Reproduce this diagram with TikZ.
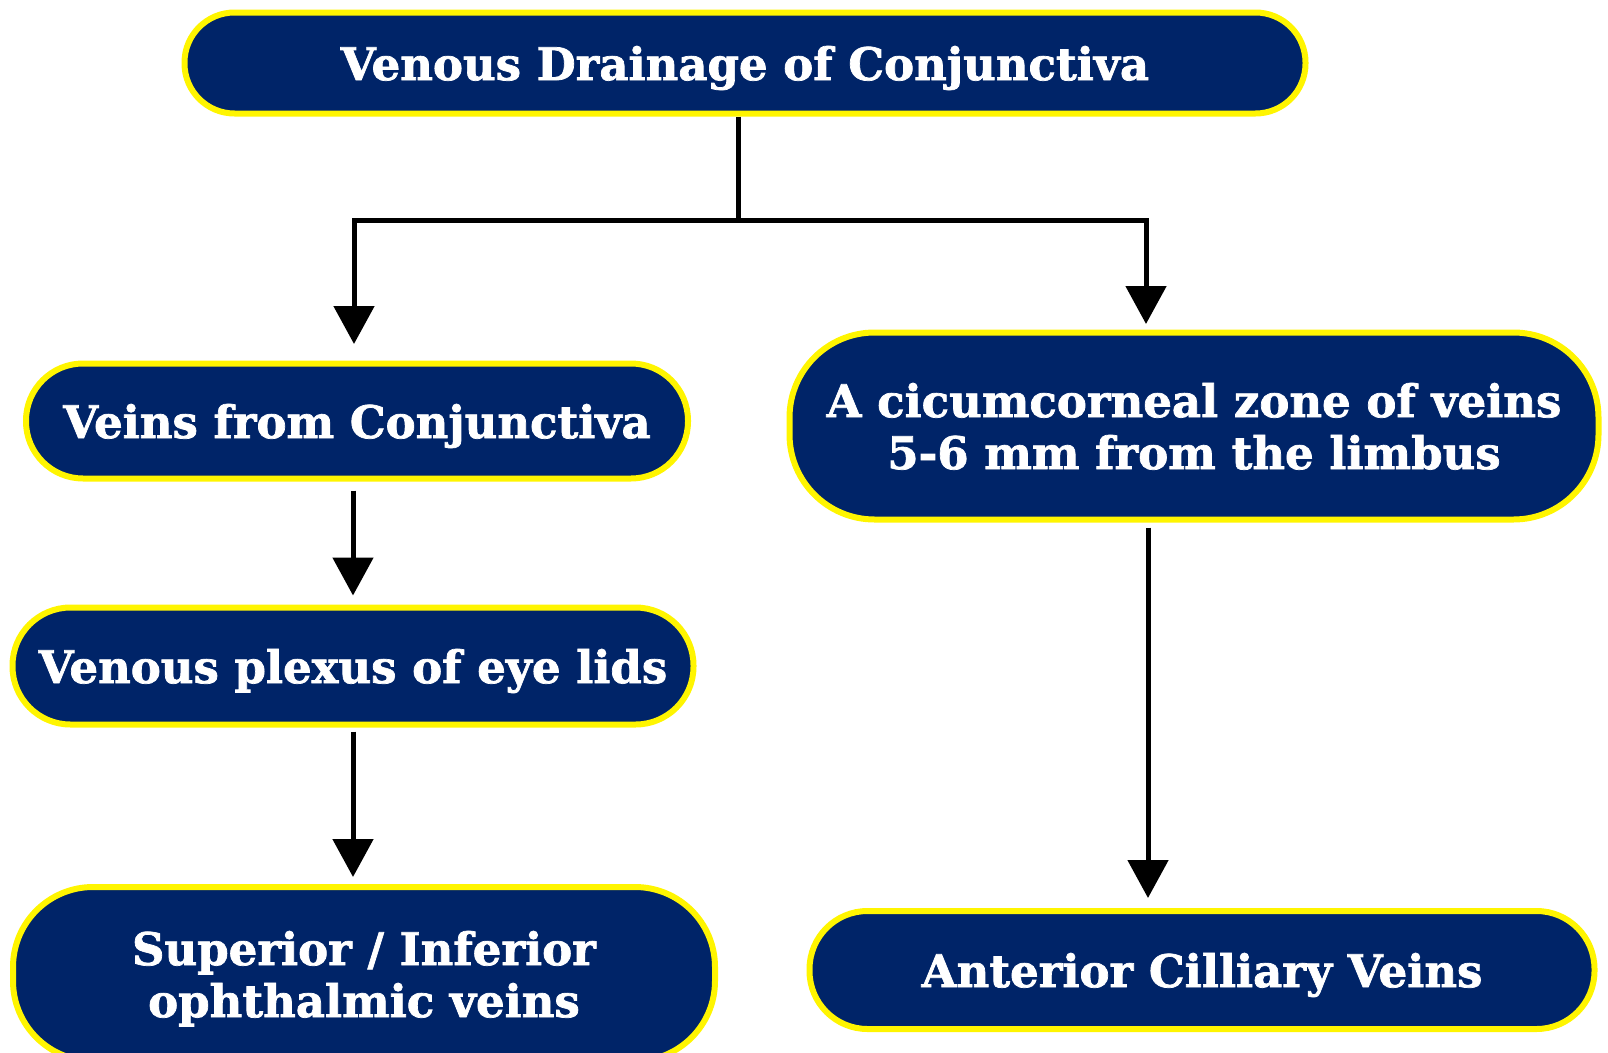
\documentclass[tikz,border=0pt]{standalone}
\usepackage{fontspec}
\setmainfont{DejaVu Serif}[BoldFeatures={FakeBold=1.6}]
\usetikzlibrary{arrows.meta,calc}
\definecolor{navy}{RGB}{0,36,104}
\definecolor{rim}{RGB}{255,245,0}
\tikzset{
  box/.style={draw=rim, line width=6pt, fill=navy, text=white, align=center,
    font=\fontsize{45}{52}\selectfont\bfseries, inner sep=0pt, text depth=0pt},
  arr/.style={draw=black, line width=5pt, -{Triangle[width=40pt,length=38pt]}},
  ln/.style={draw=black, line width=5pt}
}
\begin{document}
\begin{tikzpicture}[x=1pt,y=-1pt]
\useasboundingbox (0,0) rectangle (1608,1052);
\clip (0,0) rectangle (1608,1052);
\node[box, minimum width=1121pt, minimum height=101pt, rounded corners=50pt] (top) at (745,63) {Venous Drainage of Conjunctiva};
\node[box, minimum width=662pt, minimum height=115pt, rounded corners=57pt] (veins) at (357,421) {Veins from Conjunctiva};
\node[box, minimum width=681pt, minimum height=117pt, rounded corners=58pt] (plexus) at (353,666) {Venous plexus of eye lids};
\node[box, minimum width=702pt, minimum height=174pt, rounded corners=80pt] (sup) at (364,974) {Superior / Inferior\\ophthalmic veins};
\node[box, minimum width=809pt, minimum height=187pt, rounded corners=85pt] (circ) at (1194,426) {A cicumcorneal zone of veins\\5-6 mm from the limbus};
\node[box, minimum width=785pt, minimum height=118pt, rounded corners=58pt] (ant) at (1202,970) {Anterior Cilliary Veins};
\coordinate (j) at (738,220);
\coordinate (rt) at (1146,324);
\coordinate (lt) at (354,344);
\coordinate (rx) at (1148,0);
\draw[ln] (top.south -| j) -- (j);
\draw[arr] (j) -| (lt);
\draw[arr] (j) -| (rt);
\draw[arr, shorten <=9pt, shorten >=9pt] (veins.south -| plexus.north) -- (plexus.north);
\draw[arr, shorten <=4pt, shorten >=7pt] (plexus.south) -- (plexus.south |- sup.north);
\draw[arr, shorten <=5pt, shorten >=10pt] (circ.south -| rx) -- (ant.north -| rx);
\end{tikzpicture}
\end{document}
